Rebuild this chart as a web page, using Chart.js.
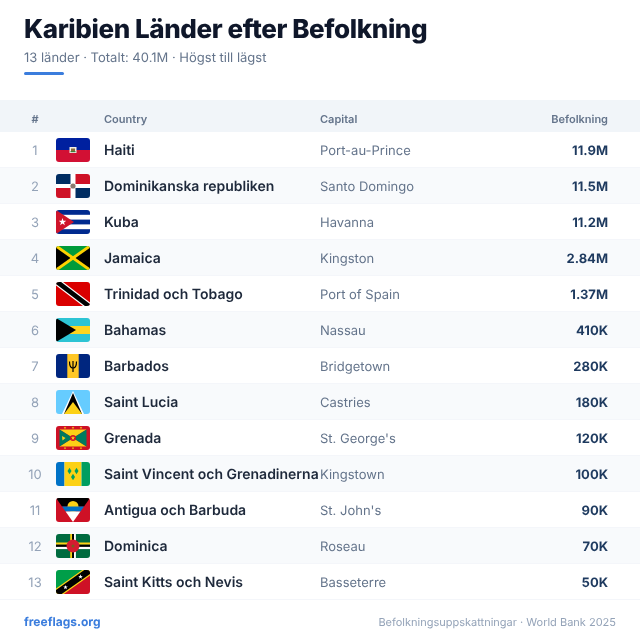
<!DOCTYPE html>
<html lang="sv">
<head>
<meta charset="utf-8">
<title>Karibien Länder efter Befolkning</title>
<script src="https://cdn.jsdelivr.net/npm/chart.js@4"></script>
<style>
    html, body { margin: 0; padding: 0; background: #fff; text-rendering: geometricPrecision; }
    #page { position: relative; width: 640px; height: 640px; overflow: hidden; font-family: Inter, sans-serif; }
    #table { position: absolute; left: 0; top: 0; }
    h1 { position: absolute; left: 24px; top: 13px; margin: 0; font-size: 26px; line-height: 34px; font-weight: 800; letter-spacing: -0.4px; color: #0f172a; white-space: nowrap; }
    #sub { position: absolute; left: 24px; top: 48px; font-size: 13px; line-height: 20px; color: #64748b; white-space: nowrap; }
    #accent { position: absolute; left: 24px; top: 72px; width: 40px; height: 3px; border-radius: 2px; background: #3b7ddd; }
    #site { position: absolute; left: 24px; top: 612px; font-size: 12px; line-height: 20px; font-weight: 700; color: #3b7ddd; }
    #source { position: absolute; right: 24px; top: 612px; font-size: 11px; line-height: 20px; color: #94a3b8; white-space: nowrap; }
</style>
</head>
<body>
<div id="page">
    <canvas id="table" width="640" height="640"></canvas>
    <h1>Karibien Länder efter Befolkning</h1>
    <div id="sub">13 länder · Totalt: 40.1M · Högst till lägst</div>
    <div id="accent"></div>
    <div id="site">freeflags.org</div>
    <div id="source">Befolkningsuppskattningar · World Bank 2025</div>
</div>
<script>
const headers = ['#', 'Country', 'Capital', 'Befolkning'];
const countries = ['Haiti', 'Dominikanska republiken', 'Kuba', 'Jamaica', 'Trinidad och Tobago', 'Bahamas', 'Barbados', 'Saint Lucia', 'Grenada', 'Saint Vincent och Grenadinerna', 'Antigua och Barbuda', 'Dominica', 'Saint Kitts och Nevis'];
const capitals = ['Port-au-Prince', 'Santo Domingo', 'Havanna', 'Kingston', 'Port of Spain', 'Nassau', 'Bridgetown', 'Castries', "St. George's", 'Kingstown', "St. John's", 'Roseau', 'Basseterre'];
const population = [11900000, 11500000, 11200000, 2840000, 1370000, 410000, 280000, 180000, 120000, 100000, 90000, 70000, 50000];
const flagCodes = ['ht', 'do', 'cu', 'jm', 'tt', 'bs', 'bb', 'lc', 'gd', 'vc', 'ag', 'dm', 'kn'];

function formatPopulation(v) {
    if (v >= 10000000) return (v / 1000000).toFixed(1) + 'M';
    if (v >= 1000000) return (v / 1000000).toFixed(2) + 'M';
    return (v / 1000) + 'K';
}

// flag helpers, all in a 34x24 box
function box(c, color, x, y, w, h) {
    c.fillStyle = color;
    c.fillRect(x, y, w, h);
}
function poly(c, color, pts) {
    c.fillStyle = color;
    c.beginPath();
    pts.forEach((p, i) => i ? c.lineTo(p[0], p[1]) : c.moveTo(p[0], p[1]));
    c.closePath();
    c.fill();
}
function disc(c, color, x, y, r) {
    c.fillStyle = color;
    c.beginPath();
    c.arc(x, y, r, 0, Math.PI * 2);
    c.fill();
}
function star(c, color, x, y, r) {
    const pts = [];
    for (let i = 0; i < 10; i++) {
        const a = -Math.PI / 2 + i * Math.PI / 5;
        const d = i % 2 ? r * 0.4 : r;
        pts.push([x + Math.cos(a) * d, y + Math.sin(a) * d]);
    }
    poly(c, color, pts);
}
function stroke(c, color, width, x1, y1, x2, y2) {
    c.strokeStyle = color;
    c.lineWidth = width;
    c.beginPath();
    c.moveTo(x1, y1);
    c.lineTo(x2, y2);
    c.stroke();
}

const flags = {
    ht(c) {
        box(c, '#00209f', 0, 0, 34, 12);
        box(c, '#d21034', 0, 12, 34, 12);
        box(c, '#f4efe6', 13.5, 9, 7, 6);
        box(c, '#8a6d3b', 15, 10.5, 4, 2.5);
        box(c, '#3f7d3a', 14.5, 13, 5, 1.2);
    },
    do(c) {
        box(c, '#ffffff', 0, 0, 34, 24);
        box(c, '#002d62', 0, 0, 14.5, 10);
        box(c, '#ce1126', 19.5, 0, 14.5, 10);
        box(c, '#ce1126', 0, 14, 14.5, 10);
        box(c, '#002d62', 19.5, 14, 14.5, 10);
        disc(c, '#8a7a70', 17, 12, 2.6);
    },
    cu(c) {
        box(c, '#ffffff', 0, 0, 34, 24);
        [0, 9.6, 19.2].forEach(y => box(c, '#002a8f', 0, y, 34, 4.8));
        poly(c, '#cf142b', [[0, 0], [18, 12], [0, 24]]);
        star(c, '#ffffff', 6.5, 12, 4);
    },
    jm(c) {
        box(c, '#009b3a', 0, 0, 34, 24);
        poly(c, '#000000', [[0, 0], [15, 12], [0, 24]]);
        poly(c, '#000000', [[34, 0], [19, 12], [34, 24]]);
        stroke(c, '#fed100', 3, 0, 0, 34, 24);
        stroke(c, '#fed100', 3, 34, 0, 0, 24);
    },
    tt(c) {
        box(c, '#da0000', 0, 0, 34, 24);
        stroke(c, '#ffffff', 7, 0, -1, 34, 25);
        stroke(c, '#000000', 4.6, 0, -1, 34, 25);
    },
    bs(c) {
        box(c, '#2dc4d4', 0, 0, 34, 24);
        box(c, '#ffd520', 0, 8, 34, 8);
        poly(c, '#000000', [[0, 0], [20, 12], [0, 24]]);
    },
    bb(c) {
        box(c, '#00267f', 0, 0, 34, 24);
        box(c, '#ffc726', 11.3, 0, 11.4, 24);
        stroke(c, '#000000', 1.2, 17, 7, 17, 18);
        c.lineWidth = 1.2;
        c.beginPath();
        c.moveTo(13.5, 7.5);
        c.quadraticCurveTo(13.5, 14, 17, 14);
        c.quadraticCurveTo(20.5, 14, 20.5, 7.5);
        c.stroke();
    },
    lc(c) {
        box(c, '#66ccff', 0, 0, 34, 24);
        poly(c, '#ffffff', [[17, 1], [28, 24], [6, 24]]);
        poly(c, '#000000', [[17, 3], [26, 24], [8, 24]]);
        poly(c, '#fcd116', [[17, 12], [26, 24], [8, 24]]);
    },
    gd(c) {
        box(c, '#ce1126', 0, 0, 34, 24);
        poly(c, '#fcd116', [[3.5, 3.5], [30.5, 3.5], [17, 12]]);
        poly(c, '#fcd116', [[3.5, 20.5], [30.5, 20.5], [17, 12]]);
        poly(c, '#007a5e', [[3.5, 3.5], [17, 12], [3.5, 20.5]]);
        poly(c, '#007a5e', [[30.5, 3.5], [17, 12], [30.5, 20.5]]);
        disc(c, '#ce1126', 17, 12, 3);
        star(c, '#fcd116', 17, 12, 2.2);
        poly(c, '#fcd116', [[6, 10], [9.5, 12], [6.5, 14.5]]);
        [9, 17, 25].forEach(x => {
            star(c, '#fcd116', x, 1.8, 1.4);
            star(c, '#fcd116', x, 22.2, 1.4);
        });
    },
    vc(c) {
        box(c, '#0072c6', 0, 0, 8.5, 24);
        box(c, '#fcd116', 8.5, 0, 17, 24);
        box(c, '#009e60', 25.5, 0, 8.5, 24);
        [[13.5, 9], [20.5, 9], [17, 15]].forEach(p => {
            poly(c, '#009e60', [[p[0], p[1] - 3.2], [p[0] + 2, p[1]], [p[0], p[1] + 3.2], [p[0] - 2, p[1]]]);
        });
    },
    ag(c) {
        box(c, '#ce1126', 0, 0, 34, 24);
        poly(c, '#000000', [[0, 0], [34, 0], [28, 8.5], [6, 8.5]]);
        disc(c, '#fcd116', 17, 8.5, 5.5);
        poly(c, '#0072c6', [[6, 8.5], [28, 8.5], [24.4, 13.6], [9.6, 13.6]]);
        poly(c, '#ffffff', [[9.6, 13.6], [24.4, 13.6], [17, 24]]);
    },
    dm(c) {
        box(c, '#006b3f', 0, 0, 34, 24);
        box(c, '#fcd116', 14.2, 0, 1.9, 24);
        box(c, '#000000', 16.1, 0, 1.9, 24);
        box(c, '#ffffff', 18, 0, 1.9, 24);
        box(c, '#fcd116', 0, 8.5, 34, 2.2);
        box(c, '#000000', 0, 10.7, 34, 2.2);
        box(c, '#ffffff', 0, 12.9, 34, 2.2);
        disc(c, '#d41c30', 17, 12, 6.5);
        disc(c, '#7a5a20', 17, 12, 1.5);
    },
    kn(c) {
        poly(c, '#009e49', [[0, 0], [34, 0], [0, 24]]);
        poly(c, '#ce1126', [[34, 0], [34, 24], [0, 24]]);
        stroke(c, '#fcd116', 9, -1, 24.7, 35, -0.7);
        stroke(c, '#000000', 6.6, -1, 24.7, 35, -0.7);
        star(c, '#ffffff', 9.5, 17.3, 2.4);
        star(c, '#ffffff', 24.5, 6.7, 2.4);
    }
};

function drawFlag(c, code, x, y) {
    c.save();
    c.translate(x, y);
    c.beginPath();
    c.roundRect(0, 0, 34, 24, 3);
    c.clip();
    flags[code](c);
    c.restore();
}

function label(c, text, x, y, font, color, align) {
    c.font = font;
    c.textRendering = 'geometricPrecision';
    c.fillStyle = color;
    c.textAlign = align || 'left';
    c.textBaseline = 'middle';
    c.fillText(text, x, y);
}

// the rows are laid out by the category scale, text and flags hang off it
const tablePlugin = {
    id: 'tablePlugin',
    beforeDatasetsDraw(chart) {
        const c = chart.ctx;
        const yScale = chart.scales.y;
        const area = chart.chartArea;
        c.save();
        c.fillStyle = '#f1f5f9';
        c.fillRect(area.left, 100, area.right, area.top - 100);
        countries.forEach((name, i) => {
            const y = yScale.getPixelForValue(i);
            const h = yScale.getPixelForValue(1) - yScale.getPixelForValue(0);
            if (i % 2 === 1) {
                c.fillStyle = '#f8fafc';
                c.fillRect(area.left, y - h / 2, area.right, h);
            }
            c.fillStyle = '#f4f6fa';
            c.fillRect(area.left, y + h / 2 - 1, area.right, 1);
        });
        c.restore();
    },
    afterDatasetsDraw(chart) {
        const c = chart.ctx;
        const yScale = chart.scales.y;
        c.save();
        const headFont = '600 11px Inter';
        label(c, headers[0], 35, 119.5, headFont, '#64748b', 'center');
        label(c, headers[1], 104, 119.5, headFont, '#64748b');
        label(c, headers[2], 320, 119.5, headFont, '#64748b');
        label(c, headers[3], 608, 119.5, headFont, '#64748b', 'right');
        countries.forEach((name, i) => {
            const y = yScale.getPixelForValue(i);
            label(c, String(i + 1), 35, y + 1, '400 13px Inter', '#94a3b8', 'center');
            drawFlag(c, flagCodes[i], 56, y - 12);
            label(c, name, 104, y + 1, '600 14px Inter', '#1e293b');
            label(c, capitals[i], 320, y + 1, '400 13px Inter', '#64748b');
            label(c, formatPopulation(population[i]), 608, y + 1, '700 13px Inter', '#1e3a5f', 'right');
        });
        c.restore();
    }
};

document.addEventListener('DOMContentLoaded', function() {
    new Chart(document.getElementById('table').getContext('2d'), {
        type: 'bar',
        data: {
            labels: countries,
            datasets: [{
                label: headers[3],
                data: population,
                backgroundColor: 'transparent',
                borderWidth: 0
            }]
        },
        options: {
            indexAxis: 'y',
            responsive: false,
            animation: false,
            layout: { padding: { top: 132, bottom: 40 } },
            plugins: {
                legend: { display: false },
                title: { display: false },
                tooltip: { enabled: false }
            },
            scales: {
                x: { display: false, beginAtZero: true },
                y: { display: false }
            }
        },
        plugins: [tablePlugin]
    });
});
</script>
</body>
</html>
